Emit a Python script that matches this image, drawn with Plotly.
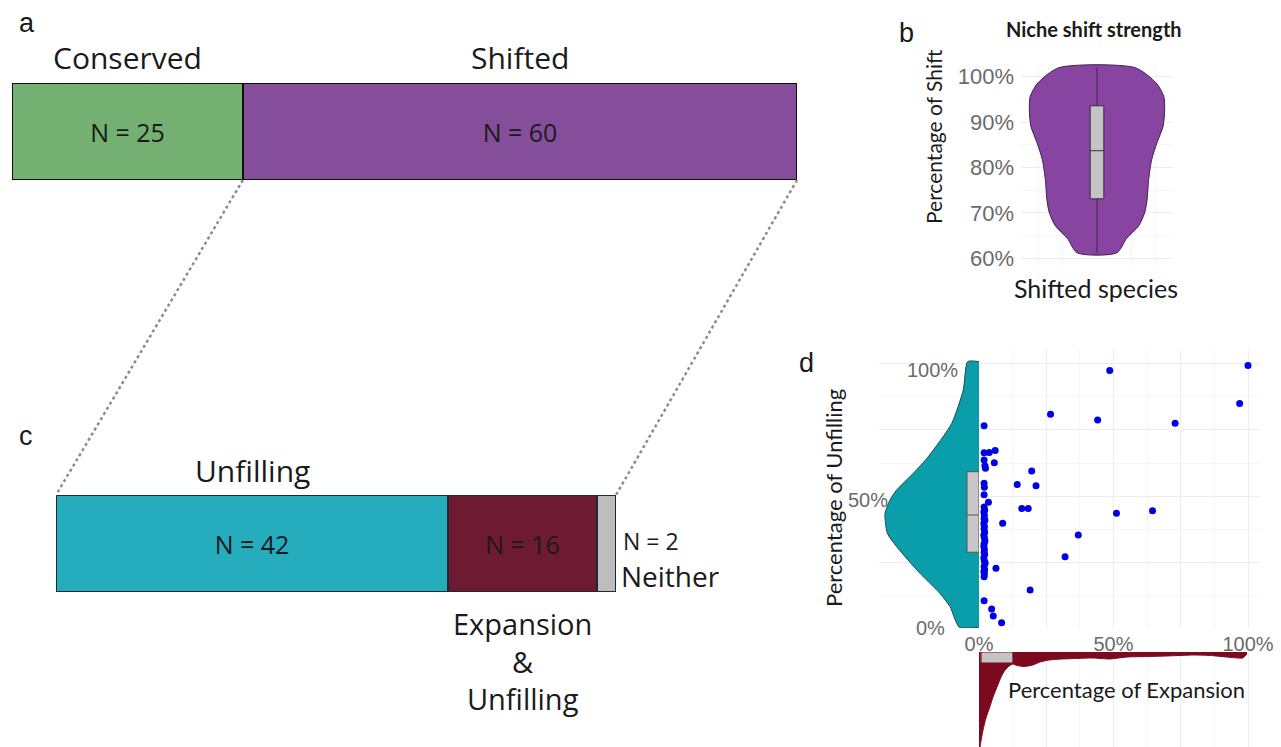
import plotly.graph_objects as go

W, H = 1281, 747

# ---------------- data ----------------
# Panel a
a_categories = ["Conserved", "Shifted"]
a_counts = [25, 60]
a_colors = ["#73B072", "#854E9A"]

# Panel c
c_categories = ["Unfilling", "Expansion<br>&<br>Unfilling", "Neither"]
c_counts = [42, 16, 2]
c_colors = ["#25ADBE", "#6E1A33", "#BDBDBD"]

# Panel b: niche shift strength (violin outline)
shift_levels = [61.2, 64.4, 67.2, 70.2, 73.1, 77.4, 81.8, 85.5, 89.1, 92.7, 95.6, 98.6, 102.0]
shift_halfwidth = [0.26, 0.39, 0.55, 0.63, 0.66, 0.68, 0.72, 0.79, 0.87, 0.89, 0.88, 0.78, 0.50]
shift_q1, shift_median, shift_q3 = 73.1, 83.7, 93.6
shift_min, shift_max = 61.2, 102.0
b_tickvals = [60, 70, 80, 90, 100]
b_ticktext = ["60%", "70%", "80%", "90%", "100%"]

# Panel d: scatter of expansion vs unfilling (%)
expansion_pct = [100.0, 48.6, 96.9, 26.6, 44.1, 72.9, 1.9,
                 1.9, 3.8, 6.0, 1.9, 5.7, 2.2, 2.4,
                 19.6, 14.2, 21.2, 1.9, 2.0, 1.9, 3.5,
                 15.9, 18.3, 51.1, 64.5, 8.8, 36.9, 32.0,
                 6.3, 19.0, 1.9, 4.7, 5.3, 8.4,
                 1.9, 2.1, 1.8, 2.0, 1.9, 2.2, 1.8, 2.0, 1.9, 2.1,
                 1.8, 2.0, 2.2, 1.9, 1.8, 2.0, 1.9, 2.1, 1.8, 2.0,
                 2.3, 1.9, 2.1, 1.8, 2.0, 1.9]
unfilling_pct = [99.4, 97.5, 85.0, 81.0, 78.8, 77.6, 76.6,
                 66.4, 66.5, 67.2, 63.6, 62.6, 61.5, 60.5,
                 59.5, 54.4, 53.9, 54.8, 53.3, 50.5, 47.6,
                 45.3, 45.3, 43.5, 44.4, 39.7, 35.2, 27.0,
                 22.6, 14.4, 10.3, 7.2, 4.5, 2.0,
                 45.8, 44.6, 43.9, 42.7, 41.5, 40.8, 39.6, 38.4, 37.5, 36.3,
                 35.1, 34.2, 33.0, 31.8, 30.9, 29.7, 28.6, 27.8, 26.5, 25.4,
                 24.6, 23.3, 22.1, 21.4, 20.5, 19.4]

# marginal density of unfilling (relative width)
unfill_levels = [0.3, 8.1, 13.1, 20.7, 30.8, 35.9, 43.4, 48.5, 52.3, 58.6, 64.9, 77.5, 90.2, 100.9]
unfill_density = [19.7, 29, 39, 59, 82.3, 91.7, 94, 89, 82.3, 65.7, 50.7, 27.3, 15.7, 11.3]
unfill_q1, unfill_median, unfill_q3 = 28.7, 42.8, 59.2

# marginal density of expansion (relative depth)
exp_levels = [0.0, 0.4, 1.5, 2.6, 4.0, 5.2, 6.7, 8.2, 9.7, 11.2, 12.6, 14.0, 17.0, 20.0,
              22.7, 26.0, 31.0, 36.0, 42.0, 48.7, 55.0, 63.6, 70.0, 79.5, 86.0, 92.0, 98.0, 99.6]
exp_density = [140, 95, 78, 66, 55, 45, 35, 25, 18, 14, 12, 13.5, 14.5, 13,
               10, 8, 7, 6.5, 6, 7, 5, 4.5, 4, 3, 3.5, 5, 6, 2]
exp_q1, exp_median, exp_q3 = 0.4, 0.4, 12.6

d_ytick_vals = [0, 50, 100]
d_ytick_text = ["0%", "50%", "100%"]
d_xtick_vals = [0, 25, 50, 75, 100]
d_xtick_text = ["0%", "", "50%", "", "100%"]


def px(x):
    return x / W


def py(y):
    return 1 - y / H


# ---------------- layout domains ----------------
dom_xa = [px(12), px(797)]
dom_ya = [py(180), py(83)]
dom_xc = [px(56), px(616)]
dom_yc = [py(592), py(495)]
dom_xb = [px(1021), px(1173)]
dom_yb = [py(267.4), py(63.1)]
dom_xd = [px(979), px(1260)]
dom_yd = [py(628), py(350)]
dom_xl = [px(879), px(979)]
dom_yl = [0, py(652)]

fig = go.Figure()

TXT = "#1a1a1a"
NFONT = dict(family="Open Sans", size=25, color=TXT)

# Panel a bars
for cat, n, col in zip(a_categories, a_counts, a_colors):
    fig.add_trace(go.Bar(
        x=[n], y=[0], orientation="h", width=1,
        marker=dict(color=col, line=dict(color="#111111", width=2)),
        text=[f"N = {n}"], textposition="inside", insidetextanchor="middle",
        textangle=0, constraintext="none", textfont=NFONT,
        xaxis="x", yaxis="y", hoverinfo="skip"))

# Panel c bars
c_total = sum(c_counts)
for cat, n, col in zip(c_categories, c_counts, c_colors):
    inside = n / c_total > 0.1
    fig.add_trace(go.Bar(
        x=[n], y=[0], orientation="h", width=1,
        marker=dict(color=col, line=dict(color="#1b2a33", width=2)),
        text=[f"N = {n}" if inside else ""], textposition="inside",
        insidetextanchor="middle", textangle=0, constraintext="none",
        textfont=NFONT, xaxis="x2", yaxis="y2", hoverinfo="skip"))

# Panel b violin outline
vx = list(shift_halfwidth) + [-w for w in reversed(shift_halfwidth)] + [shift_halfwidth[0]]
vy = list(shift_levels) + list(reversed(shift_levels)) + [shift_levels[0]]
fig.add_trace(go.Scatter(
    x=vx, y=vy, mode="lines", fill="toself", fillcolor="#8744A0",
    line=dict(color="#3b1f4c", width=1, shape="spline", smoothing=0.7),
    xaxis="x3", yaxis="y3", hoverinfo="skip"))
# box on an overlaying axis so it sits above the violin fill
fig.add_trace(go.Box(
    x=[0], q1=[shift_q1], median=[shift_median], q3=[shift_q3],
    lowerfence=[shift_min], upperfence=[shift_max], width=0.18, whiskerwidth=0,
    fillcolor="#C4C4C4", line=dict(color="#3a2a44", width=1),
    orientation="v", xaxis="x7", yaxis="y3", hoverinfo="skip", boxpoints=False))

# Panel d scatter
fig.add_trace(go.Scatter(
    x=expansion_pct, y=unfilling_pct, mode="markers",
    marker=dict(color="#0000E6", size=7), xaxis="x4", yaxis="y4", hoverinfo="skip"))

# left marginal density (unfilling)
lx = [0] + [-d for d in unfill_density] + [0]
ly = [unfill_levels[0]] + list(unfill_levels) + [unfill_levels[-1]]
fig.add_trace(go.Scatter(
    x=lx, y=ly, mode="lines", fill="toself", fillcolor="#0A9EAA",
    line=dict(color="#1e4a50", width=1, shape="spline", smoothing=0.6),
    xaxis="x5", yaxis="y4", hoverinfo="skip"))
fig.add_trace(go.Box(
    x=[-6], q1=[unfill_q1], median=[unfill_median], q3=[unfill_q3],
    lowerfence=[unfill_q1], upperfence=[unfill_q3], width=12, whiskerwidth=0,
    fillcolor="#C8C8C8", line=dict(color="#555555", width=1),
    orientation="v", xaxis="x8", yaxis="y4", hoverinfo="skip", boxpoints=False))

# bottom marginal density (expansion)
fig.add_trace(go.Scatter(
    x=exp_levels, y=[-d for d in exp_density], mode="lines", fill="tozeroy",
    fillcolor="#7B0A1F", line=dict(color="#7B0A1F", width=1, shape="spline", smoothing=0.5),
    xaxis="x4", yaxis="y6", hoverinfo="skip"))
fig.add_trace(go.Box(
    y=[-5.5], q1=[exp_q1], median=[exp_median], q3=[exp_q3],
    lowerfence=[exp_q1], upperfence=[exp_q3], width=11, whiskerwidth=0,
    fillcolor="#C4C4C4", line=dict(color="#7B0A1F", width=1),
    orientation="h", xaxis="x4", yaxis="y9", hoverinfo="skip", boxpoints=False))

# ---------------- shapes (connectors) ----------------
a_total = sum(a_counts)
xa_split = dom_xa[0] + (dom_xa[1] - dom_xa[0]) * a_counts[0] / a_total
dot = dict(color="#8c8c8c", width=2.5, dash="dot")
shapes = [
    dict(type="line", xref="paper", yref="paper", x0=xa_split, y0=dom_ya[0],
         x1=dom_xc[0], y1=dom_yc[1], line=dot),
    dict(type="line", xref="paper", yref="paper", x0=dom_xa[1], y0=dom_ya[0],
         x1=dom_xc[1], y1=dom_yc[1], line=dot),
]

# ---------------- annotations ----------------
LAB = dict(family="Open Sans", size=30, color=TXT)
CAL = "Lato"
TICK = dict(family="Arial, Liberation Sans", size=20, color="#6b6b6b")
ann = []


def add(text, x, y, font, xref="paper", yref="paper", xanchor="center",
        yanchor="middle", angle=0, yshift=0):
    ann.append(dict(text=text, x=x, y=y, xref=xref, yref=yref, xanchor=xanchor,
                    yanchor=yanchor, showarrow=False, font=font, textangle=angle,
                    yshift=yshift))


PANEL = dict(family="Arial, Liberation Sans", size=27, color=TXT)
add("a", px(27), py(23), PANEL)
add("c", px(26), py(436), PANEL)
add("b", px(906), py(33), PANEL)
add("d", px(806), py(363), PANEL)

# category labels panel a
cum = 0
for cat, n in zip(a_categories, a_counts):
    add(cat, cum + n / 2, py(58), LAB, xref="x")
    cum += n

# category labels panel c
add(c_categories[0], c_counts[0] / 2, py(470), LAB, xref="x2")
add(c_categories[1], c_counts[0] + c_counts[1] / 2, py(661),
    dict(family="Open Sans", size=29, color=TXT), xref="x2")
add(f"N = {c_counts[2]}", px(621), py(541), dict(family="Open Sans", size=23, color=TXT),
    xanchor="left")
add(c_categories[2], px(619), py(576), dict(family="Open Sans", size=28, color=TXT),
    xanchor="left")

# panel b texts
add("<b>Niche shift strength</b>", px(1094), py(29), dict(family=CAL, size=20, color=TXT))
add("Percentage of Shift", px(933), py(137), dict(family=CAL, size=21, color=TXT), angle=-90)
add("Shifted species", px(1096), py(288), dict(family=CAL, size=25, color=TXT))

# panel d texts
add("Percentage of Unfilling", px(833), py(498), dict(family=CAL, size=22, color=TXT), angle=-90)
add("Percentage of Expansion", px(1126), py(689), dict(family=CAL, size=22, color=TXT))
d_ylab_x = [947, 890, 960]
d_ylab_shift = [0, -4, -6]
for v, t, xx, sh in zip(d_ytick_vals, d_ytick_text, d_ylab_x, d_ylab_shift):
    add(t, px(xx), v, TICK, yref="y4", xanchor="right", yshift=sh)

# ---------------- axes ----------------
GRID = "#EDEDED"
MINOR = "#F5F5F5"
hidden = dict(visible=False)

fig.update_layout(
    width=W, height=H,
    margin=dict(l=0, r=0, t=0, b=0, pad=0, autoexpand=False),
    paper_bgcolor="white", plot_bgcolor="white", showlegend=False,
    barmode="stack", bargap=0,
    shapes=shapes, annotations=ann,
    xaxis=dict(domain=dom_xa, range=[0, a_total], anchor="y", **hidden),
    yaxis=dict(domain=dom_ya, range=[-0.5, 0.5], anchor="x", **hidden),
    xaxis2=dict(domain=dom_xc, range=[0, c_total], anchor="y2", **hidden),
    yaxis2=dict(domain=dom_yc, range=[-0.5, 0.5], anchor="x2", **hidden),
    xaxis3=dict(domain=dom_xb, range=[-1, 1], anchor="y3", showticklabels=False,
                zeroline=False, showline=False, ticks="",
                tickvals=[-0.77, -0.45, 0.45, 0.77], showgrid=True, gridcolor=MINOR),
    yaxis3=dict(domain=dom_yb, range=[58, 103], anchor="x3", tickvals=b_tickvals,
                ticktext=b_ticktext, tickfont=dict(family="Arial, Liberation Sans", size=22,
                                                   color="#6b6b6b"),
                showgrid=True, gridcolor=GRID, zeroline=False, showline=False, ticks="",
                ticklabelstandoff=6,
                minor=dict(tickvals=[65, 75, 85, 95], showgrid=True, gridcolor=MINOR)),
    xaxis7=dict(domain=dom_xb, range=[-1, 1], anchor="y3", overlaying="x3", **hidden),
    xaxis4=dict(domain=dom_xd, range=[0, 104.46], anchor="y4", tickvals=d_xtick_vals,
                ticktext=d_xtick_text, tickfont=TICK, showgrid=True, gridcolor=GRID,
                zeroline=False, showline=False, ticks="", ticklabelstandoff=2,
                minor=dict(tickvals=[12.5, 37.5, 62.5, 87.5], showgrid=True, gridcolor=MINOR)),
    yaxis4=dict(domain=dom_yd, range=[0, 105.3], anchor="x4", tickvals=[0, 25, 50, 75, 100],
                showticklabels=False, showgrid=True, gridcolor=GRID, zeroline=False,
                showline=False, ticks="",
                minor=dict(tickvals=[12.5, 37.5, 62.5, 87.5], showgrid=True, gridcolor=MINOR)),
    xaxis5=dict(domain=dom_xl, range=[-100, 0], anchor="y4", **hidden),
    xaxis8=dict(domain=dom_xl, range=[-100, 0], anchor="y4", overlaying="x5", **hidden),
    yaxis6=dict(domain=dom_yl, range=[-95, 0], anchor="x4", **hidden),
    yaxis9=dict(domain=dom_yl, range=[-95, 0], anchor="x4", overlaying="y6", **hidden),
)

fig.write_html("out.html")
